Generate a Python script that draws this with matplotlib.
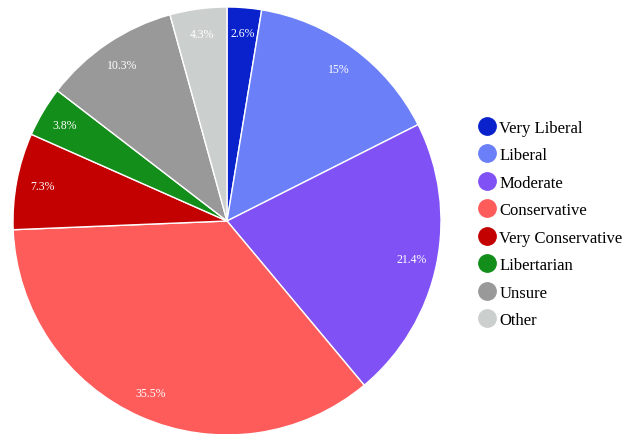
import matplotlib
matplotlib.use("Agg")
import matplotlib.pyplot as plt
from matplotlib.lines import Line2D
import numpy as np

labels = ["Very Liberal", "Liberal", "Moderate", "Conservative",
          "Very Conservative", "Libertarian", "Unsure", "Other"]
shares = [2.6, 15, 21.4, 35.5, 7.3, 3.8, 10.3, 4.3]
pct_text = ["2.6%", "15%", "21.4%", "35.5%", "7.3%", "3.8%", "10.3%", "4.3%"]
colors = ["#0a22cc", "#6a7ff8", "#8052f5", "#fe5b5b",
          "#c40101", "#138e1a", "#999999", "#cbcfcd"]

plt.rcParams["font.family"] = ["Liberation Serif", "DejaVu Serif"]

fig = plt.figure(figsize=(6.29, 4.35), dpi=100)
W, H = 629, 435
cx, cy, r = 227, 222, 214
ax = fig.add_axes([(cx - r) / W, (H - cy - r) / H, 2 * r / W, 2 * r / H])

wedges, _ = ax.pie(shares, colors=colors, startangle=90, counterclock=False,
                   radius=1.0, wedgeprops=dict(edgecolor="white", linewidth=1))

# percentage labels inside each slice
for w, t in zip(wedges, pct_text):
    ang = np.deg2rad((w.theta1 + w.theta2) / 2)
    ax.text(0.88 * np.cos(ang), 0.88 * np.sin(ang), t, color="white",
            fontsize=8.5, ha="center", va="center")

ax.set_xlim(-1, 1)
ax.set_ylim(-1, 1)
ax.set_aspect("equal")
ax.axis("off")

handles = [Line2D([], [], marker="o", linestyle="", markersize=12.5,
                  markerfacecolor=c, markeredgecolor=c) for c in colors]
fig.legend(handles, labels, loc="upper left",
           bbox_to_anchor=(470 / W, 1 - 114 / H), frameon=False,
           fontsize=12, labelspacing=0.69, handletextpad=0.15,
           handlelength=1.2, borderaxespad=0)

fig.savefig("out.png", dpi=100)
